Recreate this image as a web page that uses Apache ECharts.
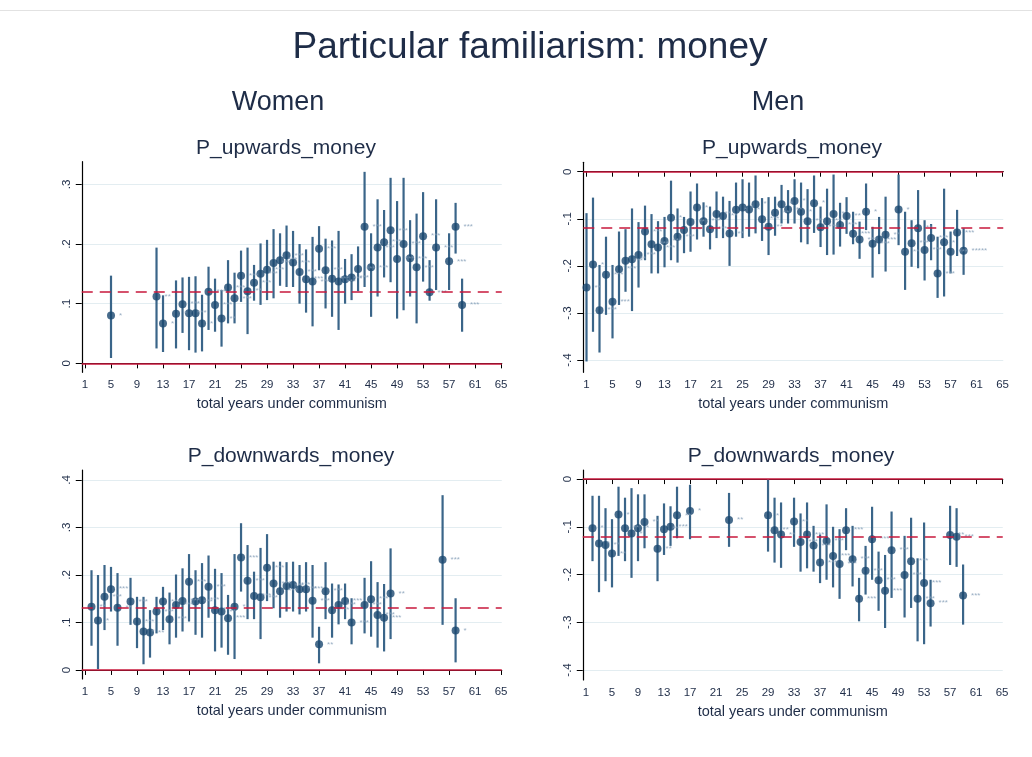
<!DOCTYPE html>
<html>
<head>
<meta charset="utf-8">
<script src="https://cdn.jsdelivr.net/npm/echarts@6/dist/echarts.min.js"></script>
<style>
html,body{margin:0;padding:0;background:#fff}
#main{width:1032px;height:757px}
</style>
</head>
<body>
<div id="main"></div>
<script>
// women, upwards
var wuYears = [5,12,13,15,16,17,18,19,20,21,22,23,24,25,26,27,28,29,30,31,32,33,34,35,36,37,38,39,40,41,42,43,44,45,46,47,48,49,50,51,52,53,54,55,57,58,59];
var wuEst = [0.080,0.112,0.067,0.083,0.099,0.084,0.084,0.067,0.120,0.098,0.075,0.127,0.109,0.147,0.121,0.135,0.150,0.157,0.168,0.173,0.181,0.169,0.153,0.141,0.137,0.192,0.156,0.142,0.137,0.141,0.144,0.158,0.229,0.161,0.194,0.203,0.223,0.175,0.200,0.176,0.161,0.213,0.119,0.194,0.171,0.229,0.098];
var wuLo = [0.009,0.025,0.019,0.025,0.051,0.022,0.018,0.020,0.056,0.053,0.028,0.067,0.067,0.103,0.049,0.105,0.098,0.106,0.109,0.130,0.128,0.128,0.100,0.085,0.062,0.156,0.092,0.078,0.056,0.100,0.106,0.121,0.128,0.078,0.112,0.144,0.136,0.075,0.089,0.112,0.067,0.137,0.105,0.123,0.123,0.184,0.053];
var wuHi = [0.147,0.194,0.114,0.139,0.144,0.145,0.146,0.115,0.162,0.142,0.123,0.173,0.152,0.189,0.194,0.165,0.201,0.207,0.225,0.218,0.231,0.222,0.200,0.191,0.212,0.230,0.209,0.206,0.222,0.175,0.183,0.196,0.321,0.218,0.275,0.257,0.311,0.272,0.311,0.240,0.251,0.287,0.173,0.275,0.218,0.269,0.142];
var wuStars = ['*','**','*','*','***','**','*','*','***','***','**','***','***','***','**','***','***','***','***','***','***','***','***','***','***','***','***','***','***','***','***','***','***','***','***','***','***','***','***','***','***','***','***','***','***','***','***'];
var wuMean = 0.117;

// men, upwards
var muYears = [1,2,3,4,5,6,7,8,9,10,11,12,13,14,15,16,17,18,19,20,21,22,23,24,25,26,27,28,29,30,31,32,33,34,35,36,37,38,39,40,41,42,43,44,45,46,47,49,50,51,52,53,54,55,56,57,58,59];
var muEst = [-0.246,-0.197,-0.294,-0.219,-0.276,-0.207,-0.189,-0.186,-0.177,-0.127,-0.154,-0.161,-0.147,-0.098,-0.138,-0.124,-0.107,-0.076,-0.105,-0.122,-0.090,-0.094,-0.131,-0.081,-0.076,-0.080,-0.069,-0.101,-0.117,-0.087,-0.069,-0.080,-0.062,-0.085,-0.105,-0.067,-0.118,-0.105,-0.090,-0.113,-0.094,-0.132,-0.144,-0.085,-0.153,-0.144,-0.134,-0.080,-0.170,-0.152,-0.120,-0.166,-0.141,-0.216,-0.150,-0.170,-0.129,-0.168];
var muLo = [-0.403,-0.340,-0.384,-0.304,-0.354,-0.283,-0.255,-0.296,-0.246,-0.188,-0.216,-0.216,-0.203,-0.188,-0.193,-0.173,-0.170,-0.144,-0.138,-0.165,-0.141,-0.141,-0.200,-0.138,-0.141,-0.138,-0.131,-0.147,-0.177,-0.136,-0.110,-0.110,-0.110,-0.150,-0.154,-0.130,-0.160,-0.177,-0.176,-0.159,-0.132,-0.154,-0.185,-0.124,-0.225,-0.175,-0.212,-0.156,-0.251,-0.202,-0.205,-0.231,-0.188,-0.268,-0.265,-0.216,-0.179,-0.219];
var muHi = [-0.088,-0.055,-0.198,-0.138,-0.198,-0.127,-0.122,-0.078,-0.107,-0.072,-0.090,-0.105,-0.096,-0.019,-0.078,-0.096,-0.042,-0.025,-0.065,-0.074,-0.042,-0.053,-0.062,-0.023,-0.016,-0.023,-0.008,-0.056,-0.054,-0.053,-0.028,-0.039,-0.016,-0.023,-0.037,-0.008,-0.074,-0.036,-0.006,-0.066,-0.054,-0.085,-0.106,-0.025,-0.117,-0.096,-0.053,-0.006,-0.085,-0.103,-0.039,-0.103,-0.111,-0.138,-0.036,-0.127,-0.081,-0.120];
var muStars = ['**','*','***','***','***','***','***','**','***','***','***','***','***','*','***','***','**','*','***','***','**','**','**','*','*','*','*','***','**','**','*','**','*','*','**','*','***','**','*','***','**','***','***','*','***','***','**','*','**','***','**','***','***','***','*','***','***','*****'];
var muMean = -0.122;

// women, downwards
var wdYears = [2,3,4,5,6,8,9,10,11,12,13,14,15,16,17,18,19,20,21,22,23,24,25,26,27,28,29,30,31,32,33,34,35,36,37,38,39,40,41,42,44,45,46,47,48,56,58];
var wdEst = [0.133,0.104,0.154,0.170,0.131,0.144,0.102,0.081,0.079,0.123,0.144,0.107,0.137,0.145,0.186,0.144,0.147,0.175,0.126,0.123,0.109,0.133,0.237,0.188,0.156,0.153,0.215,0.182,0.166,0.177,0.179,0.170,0.170,0.146,0.054,0.166,0.126,0.137,0.145,0.100,0.137,0.149,0.116,0.110,0.161,0.232,0.083];
var wdLo = [0.051,0.002,0.084,0.123,0.051,0.095,0.046,0.012,0.026,0.077,0.084,0.054,0.068,0.081,0.102,0.074,0.068,0.110,0.039,0.047,0.032,0.023,0.165,0.107,0.107,0.065,0.145,0.130,0.110,0.123,0.123,0.117,0.123,0.068,0.014,0.107,0.068,0.096,0.107,0.054,0.077,0.070,0.047,0.039,0.065,0.095,0.016];
var wdHi = [0.210,0.200,0.221,0.217,0.204,0.194,0.154,0.154,0.126,0.154,0.175,0.163,0.201,0.214,0.244,0.210,0.225,0.241,0.213,0.204,0.158,0.244,0.309,0.263,0.207,0.257,0.286,0.228,0.228,0.227,0.228,0.221,0.227,0.221,0.091,0.227,0.182,0.180,0.182,0.151,0.194,0.229,0.185,0.181,0.256,0.368,0.151];
var wdStars = ['**','*','***','***','**','***','***','*','**','***','***','***','***','***','***','***','***','***','**','**','***','*','***','***','***','***','***','***','***','***','***','***','***','***','**','***','***','***','***','***','***','***','***','***','**','***','*'];
var wdMean = 0.125;

// men, downwards
var mdYears = [2,3,4,5,6,7,8,9,10,12,13,14,15,17,23,29,30,31,33,34,35,36,37,38,39,40,41,42,43,44,45,46,47,48,50,51,52,53,54,57,58,59];
var mdEst = [-0.103,-0.135,-0.138,-0.156,-0.074,-0.103,-0.114,-0.103,-0.090,-0.146,-0.105,-0.100,-0.076,-0.067,-0.086,-0.076,-0.107,-0.116,-0.089,-0.132,-0.116,-0.139,-0.175,-0.130,-0.161,-0.178,-0.107,-0.168,-0.251,-0.192,-0.126,-0.212,-0.234,-0.149,-0.201,-0.172,-0.251,-0.218,-0.260,-0.117,-0.121,-0.244];
var mdLo = [-0.172,-0.237,-0.214,-0.227,-0.161,-0.172,-0.207,-0.172,-0.145,-0.214,-0.159,-0.140,-0.124,-0.126,-0.142,-0.152,-0.175,-0.186,-0.142,-0.194,-0.187,-0.194,-0.218,-0.211,-0.227,-0.251,-0.149,-0.225,-0.298,-0.242,-0.211,-0.276,-0.312,-0.249,-0.290,-0.270,-0.340,-0.346,-0.309,-0.180,-0.184,-0.305];
var mdHi = [-0.035,-0.035,-0.061,-0.084,-0.016,-0.039,-0.019,-0.032,-0.032,-0.077,-0.051,-0.057,-0.016,-0.012,-0.029,0.000,-0.039,-0.049,-0.039,-0.072,-0.049,-0.098,-0.116,-0.053,-0.100,-0.105,-0.061,-0.098,-0.207,-0.140,-0.058,-0.152,-0.159,-0.068,-0.119,-0.081,-0.166,-0.091,-0.211,-0.056,-0.061,-0.179];
var mdStars = ['*','*','**','**','*','**','*','*','**','**','**','***','**','*','**','*','**','**','**','***','***','***','***','***','***','***','***','***','***','***','***','***','***','***','***','***','***','***','***','**','***','***'];
var mdMean = -0.119;

var xTicks = [1,5,9,13,17,21,25,29,33,37,41,45,49,53,57,61,65];
var yTicksW = [0, 0.1, 0.2, 0.3];
var yTicksW2 = [0, 0.1, 0.2, 0.3, 0.4];
var yTicksM = [0, -0.1, -0.2, -0.3, -0.4];

var navy = '#1a476f';
var barCol = '#3a6589';
var red = '#c8193c';
var ink = '#1e2c47';
var fam = 'Liberation Sans, Arial, sans-serif';

function stataFmt(v) {
  if (Math.abs(v) < 1e-9) return '0';
  var s = Math.abs(v).toFixed(1).replace(/^0/, '');
  return (v < 0 ? '-' : '') + s;
}

function renderBar(params, api) {
  var a = api.coord([api.value(0), api.value(2)]);
  var b = api.coord([api.value(0), api.value(1)]);
  return {
    type: 'line',
    shape: {x1: a[0], y1: a[1], x2: b[0], y2: b[1]},
    style: {stroke: barCol, lineWidth: 2.2}
  };
}

var grids = [
  {left: 81.75, top: 161.7, width: 420, height: 210.6},
  {left: 583.25, top: 162.3, width: 420, height: 210},
  {left: 81.75, top: 470, width: 420, height: 209},
  {left: 582.75, top: 470, width: 420, height: 210}
];
var yRanges = [[-0.015, 0.338], [-0.426, 0.02], [-0.019, 0.421], [-0.421, 0.019]];
var yTickSets = [yTicksW, yTicksM, yTicksW2, yTicksM];

var panels = [
  [wuYears, wuEst, wuLo, wuHi, wuStars, wuMean],
  [muYears, muEst, muLo, muHi, muStars, muMean],
  [wdYears, wdEst, wdLo, wdHi, wdStars, wdMean],
  [mdYears, mdEst, mdLo, mdHi, mdStars, mdMean]
];

var xAxes = [], yAxes = [], series = [];
panels.forEach(function (p, i) {
  xAxes.push({
    type: 'value', gridIndex: i, min: 0.5, max: 65.1,
    name: 'total years under communism', nameLocation: 'middle', nameGap: 24,
    nameTextStyle: {fontFamily: fam, fontSize: 14.5, color: ink},
    axisLine: {lineStyle: {color: '#000', width: 1.2}},
    axisTick: {length: 5, lineStyle: {color: '#000'}, customValues: xTicks},
    axisLabel: {fontFamily: fam, fontSize: 11.5, color: ink, margin: 7, customValues: xTicks},
    splitLine: {show: false}
  });
  yAxes.push({
    type: 'value', gridIndex: i, min: yRanges[i][0], max: yRanges[i][1],
    axisLine: {show: true, lineStyle: {color: '#000', width: 1.2}},
    axisTick: {show: true, length: 6, lineStyle: {color: '#000'}, customValues: yTickSets[i]},
    axisLabel: {fontFamily: fam, fontSize: 11.5, color: ink, rotate: 90, margin: 9,
      customValues: yTickSets[i], formatter: stataFmt},
    splitLine: {show: true, lineStyle: {color: '#e3edf1', width: 1}}
  });

  var bars = p[0].map(function (yr, k) { return [yr, p[2][k], p[3][k]]; });
  var pts = p[0].map(function (yr, k) { return [yr, p[1][k], p[4][k]]; });

  series.push({
    type: 'custom', xAxisIndex: i, yAxisIndex: i, z: 3,
    renderItem: renderBar, encode: {x: 0, y: [1, 2]}, data: bars,
    markLine: {
      silent: true, symbol: 'none', label: {show: false},
      data: [
        {yAxis: 0, lineStyle: {color: red, width: 1.5, type: 'solid'}},
        {yAxis: p[5], lineStyle: {color: red, width: 1.5, type: [11, 7]}}
      ]
    }
  });
  series.push({
    type: 'scatter', xAxisIndex: i, yAxisIndex: i, z: 4,
    symbol: 'circle', symbolSize: 8,
    itemStyle: {color: navy},
    label: {
      show: true, position: 'right', distance: 4,
      formatter: function (d) { return d.value[2]; },
      fontFamily: fam, fontSize: 8, color: '#7f9ab4'
    },
    data: pts
  });
});

var chart = echarts.init(document.getElementById('main'));
chart.setOption({
  backgroundColor: '#fff',
  animation: false,
  grid: grids,
  xAxis: xAxes,
  yAxis: yAxes,
  series: series,
  graphic: [
    {type: 'line', shape: {x1: 0, y1: 10.5, x2: 1032, y2: 10.5}, style: {stroke: '#e2e2e2', lineWidth: 1}},
    {type: 'text', x: 530, y: 48, style: {text: 'Particular familiarism: money', align: 'center', verticalAlign: 'middle', fontFamily: fam, fontSize: 37, fill: ink}},
    {type: 'text', x: 278, y: 103, style: {text: 'Women', align: 'center', verticalAlign: 'middle', fontFamily: fam, fontSize: 27, fill: ink}},
    {type: 'text', x: 778, y: 103, style: {text: 'Men', align: 'center', verticalAlign: 'middle', fontFamily: fam, fontSize: 27, fill: ink}},
    {type: 'text', x: 286, y: 148, style: {text: 'P_upwards_money', align: 'center', verticalAlign: 'middle', fontFamily: fam, fontSize: 21, fill: ink}},
    {type: 'text', x: 792, y: 148, style: {text: 'P_upwards_money', align: 'center', verticalAlign: 'middle', fontFamily: fam, fontSize: 21, fill: ink}},
    {type: 'text', x: 291, y: 456, style: {text: 'P_downwards_money', align: 'center', verticalAlign: 'middle', fontFamily: fam, fontSize: 21, fill: ink}},
    {type: 'text', x: 791, y: 456, style: {text: 'P_downwards_money', align: 'center', verticalAlign: 'middle', fontFamily: fam, fontSize: 21, fill: ink}}
  ]
});
</script>
</body>
</html>
